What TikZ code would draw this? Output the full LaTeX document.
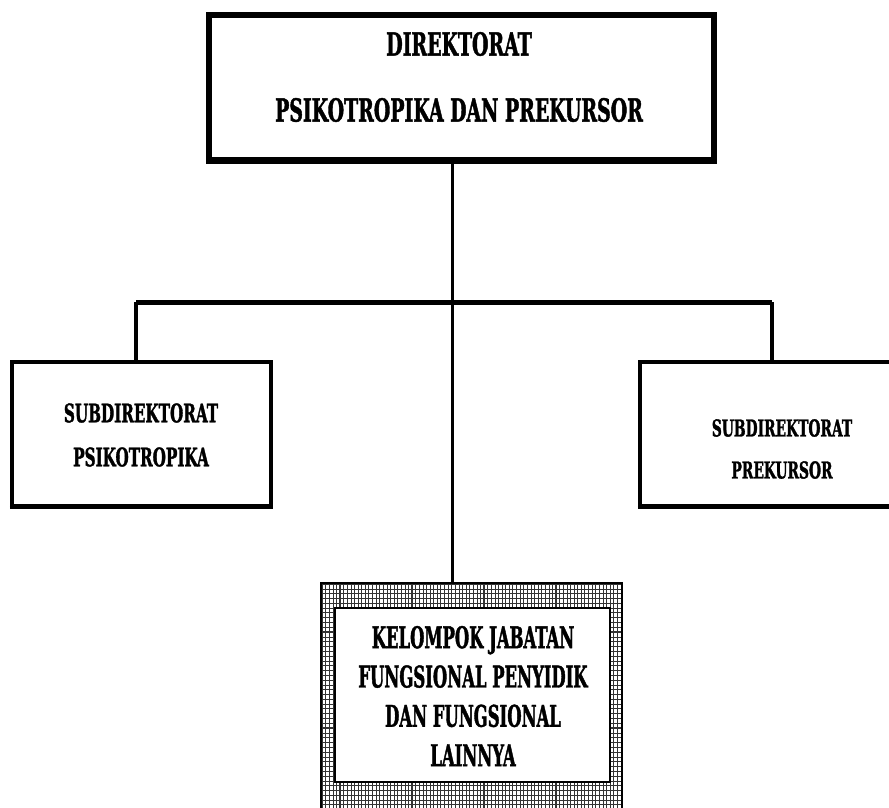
\documentclass[tikz,border=0pt]{standalone}
\usepackage{fontspec}
\newfontfamily\lblfont{DejaVu Serif Condensed Bold}[FakeStretch=0.66,FakeBold=1.3]
\newfontfamily\grpfont{DejaVu Serif Condensed Bold}[FakeStretch=0.61,FakeBold=1.3]
\begin{document}
\begin{tikzpicture}[x=1pt,y=-1pt,
  box/.style={draw, line width=4.5pt, fill=white, inner sep=0pt},
  lbl/.style={align=center, inner sep=0pt},
  link/.style={line width=3.5pt},
  hatch/.style={line width=#1, black!80},
  hatch/.default=0.5pt]
\useasboundingbox (0,0) rectangle (889,807);
\clip (0,0) rectangle (889,807);

% boxes
\node[box, line width=5.5pt, minimum width=505pt, minimum height=145pt] (dir) at (461.5,87.5) {};
\node[box, minimum width=259pt, minimum height=144pt] (psi) at (141.5,434) {};
\node[box, minimum width=255pt, minimum height=144pt] (pre) at (767.5,434) {};

% heavier lower edges
\draw[line width=3pt] ([yshift=0.5pt]dir.south west) -- ([yshift=0.5pt]dir.south east);
\draw[line width=3pt] ([yshift=0.5pt]psi.south west) -- ([yshift=0.5pt]psi.south east);
\draw[line width=3pt] ([yshift=0.5pt]pre.south west) -- ([yshift=0.5pt]pre.south east);

% cross-hatched frame of the functional group box
\node[draw, line width=1.2pt, minimum width=301pt, minimum height=229pt, inner sep=0pt] (kel) at (471.5,697.5) {};
\begin{scope}
  \clip (321,583) rectangle (622,812);
  \foreach \i in {0,...,84} {
    \pgfmathsetmacro\w{mod(\i,4)==1 ? 1.1 : 0.5}
    \draw[hatch=\w pt] (322+\i*3.6,580) -- ++(0,235);
  }
  \foreach \i in {0,...,48} {
    \pgfmathsetmacro\w{mod(\i,4)==2 ? 1.1 : 0.5}
    \draw[hatch=\w pt] (318,584+\i*4.8) -- ++(308,0);
  }
\end{scope}
\draw[line width=1.2pt] (321,583) rectangle (622,812);
\node[draw, line width=1.8pt, fill=white, minimum width=275pt, minimum height=174pt, inner sep=0pt] (kelin) at (472.5,695) {};

% connectors
\coordinate (bus) at (452,302);
\coordinate (busl) at (136,302);
\coordinate (busr) at (772,302);
\draw[line width=3pt] (dir.south -| bus) -- (kel.north -| bus);
\draw[line width=5pt] (busl) -- (busr);
\draw[link] (busl) -- (psi.north -| busl);
\draw[link] (busr) -- (pre.north -| busr);

% labels
\node[lbl, font=\lblfont\fontsize{31.8}{66}\selectfont] (tdir) at (459,77)
  {DIREKTORAT\\PSIKOTROPIKA DAN PREKURSOR};
\node[lbl, font=\lblfont\fontsize{25.6}{44}\selectfont] (tpsi) at (141,435)
  {SUBDIREKTORAT\\PSIKOTROPIKA};
\node[lbl, font=\lblfont\fontsize{23.3}{42}\selectfont] (tpre) at (782,449)
  {SUBDIREKTORAT\\PREKURSOR};
\node[lbl, font=\grpfont\fontsize{29.9}{39.3}\selectfont] (tkel) at (473,696)
  {KELOMPOK JABATAN\\FUNGSIONAL PENYIDIK\\DAN FUNGSIONAL\\LAINNYA};
\end{tikzpicture}
\end{document}
